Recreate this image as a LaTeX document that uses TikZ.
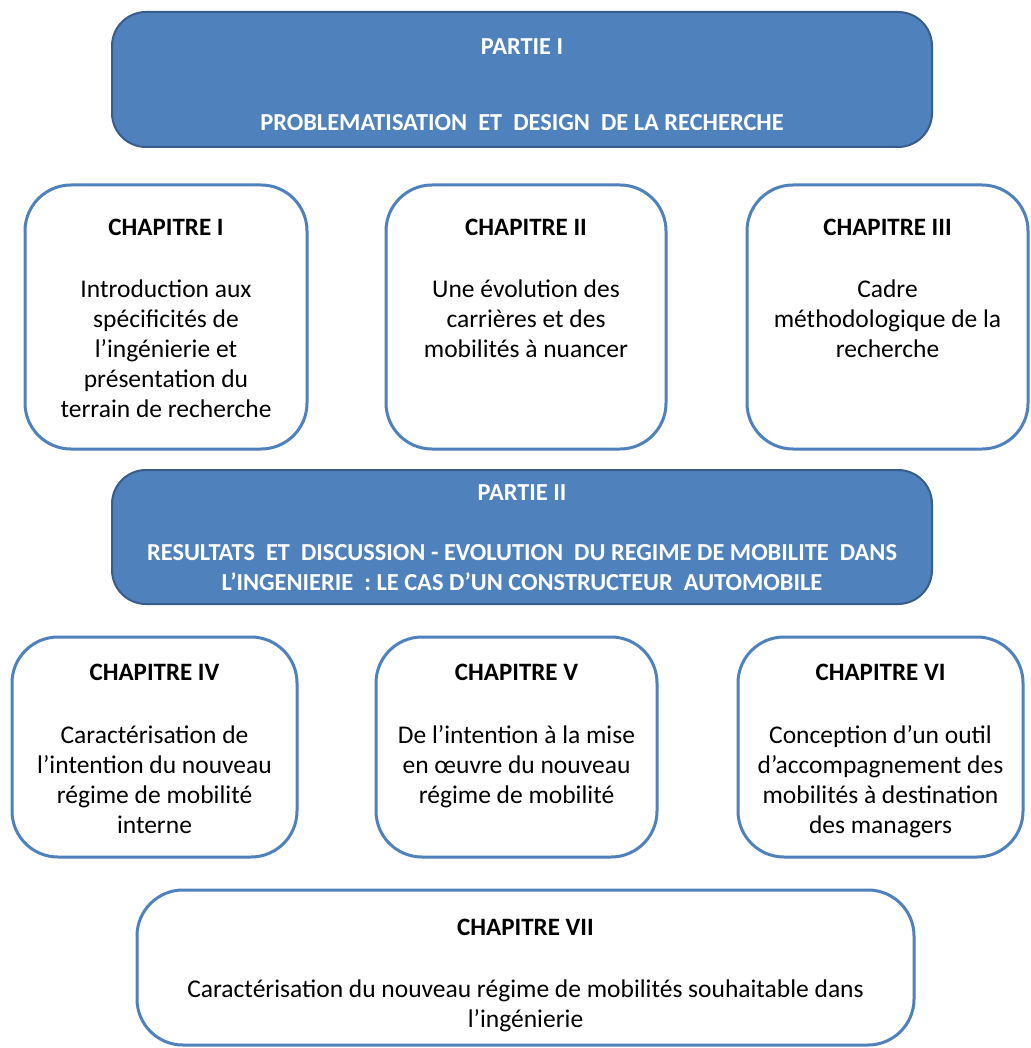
\documentclass[tikz,border=0pt]{standalone}
\usepackage{fontspec}
\setmainfont{Carlito}
\definecolor{pblue}{HTML}{4F81BD}
\definecolor{pdark}{HTML}{385D8A}
\begin{document}
\begin{tikzpicture}[x=1pt,y=-1pt,
  partbox/.style={draw=pdark,fill=pblue,line width=2pt,rounded corners=34pt,inner sep=0pt},
  chapbox/.style={draw=pblue,line width=3pt,rounded corners=46pt,fill=white,inner sep=0pt},
  parttext/.style={anchor=north,inner sep=0pt,align=center,text=white,font=\fontsize{24.4}{30}\selectfont\bfseries},
  ctitle/.style={anchor=north,inner sep=0pt,align=center,font=\fontsize{25}{30}\selectfont\bfseries},
  cbody/.style={anchor=north,inner sep=0pt,align=center,font=\fontsize{25.5}{30}\selectfont}]
\useasboundingbox[fill=white] (0,0) rectangle (1030,1048);

% Partie I
\node[partbox,minimum width=820pt,minimum height=135pt] (p1) at (522,79.5) {};
\node[parttext] (p1t) at (522,33) {\strut PARTIE I};
\node[parttext] (p1b) at (522,109) {\strut PROBLEMATISATION\ \ ET\ \ DESIGN\ \ DE LA RECHERCHE};

% Chapitres I-III
\node[chapbox,minimum width=282pt,minimum height=264pt] (c1) at (166,317) {};
\node[ctitle] (c1t) at (166,214) {\strut CHAPITRE I};
\node[cbody] (c1b) at (166,276) {\strut Introduction aux\\ spécificités de\\ l’ingénierie et\\ présentation du\\ terrain de recherche};

\node[chapbox,minimum width=280pt,minimum height=264pt] (c2) at (526,317) {};
\node[ctitle] (c2t) at (526,214) {\strut CHAPITRE II};
\node[cbody] (c2b) at (526,276) {\strut Une évolution des\\ carrières et des\\ mobilités à nuancer};

\node[chapbox,minimum width=281pt,minimum height=264pt] (c3) at (887.5,317) {};
\node[ctitle] (c3t) at (887.5,214) {\strut CHAPITRE III};
\node[cbody] (c3b) at (887.5,276) {\strut Cadre\\ méthodologique de la\\ recherche};

% Partie II
\node[partbox,minimum width=820pt,minimum height=134pt] (p2) at (522,537) {};
\node[parttext] (p2t) at (522,479) {\strut PARTIE II};
\node[parttext] (p2b) at (522,539) {\strut RESULTATS\ \ ET\ \ DISCUSSION - EVOLUTION\ \ DU REGIME DE MOBILITE\ \ DANS\\ L’INGENIERIE\ \ : LE CAS D’UN CONSTRUCTEUR\ \ AUTOMOBILE};

% Chapitres IV-VI
\node[chapbox,minimum width=285pt,minimum height=220pt] (c4) at (154.5,747) {};
\node[ctitle] (c4t) at (154.5,659) {\strut CHAPITRE IV};
\node[cbody] (c4b) at (154.5,722) {\strut Caractérisation de\\ l’intention du nouveau\\ régime de mobilité\\ interne};

\node[chapbox,minimum width=281pt,minimum height=220pt] (c5) at (516.5,747) {};
\node[ctitle] (c5t) at (516.5,659) {\strut CHAPITRE V};
\node[cbody] (c5b) at (516.5,722) {\strut De l’intention à la mise\\ en œuvre du nouveau\\ régime de mobilité};

\node[chapbox,minimum width=285pt,minimum height=220pt] (c6) at (880.5,747) {};
\node[ctitle] (c6t) at (880.5,659) {\strut CHAPITRE VI};
\node[cbody] (c6b) at (880.5,722) {\strut Conception d’un outil\\ d’accompagnement des\\ mobilités à destination\\ des managers};

% Chapitre VII
\node[chapbox,minimum width=777pt,minimum height=155pt] (c7) at (525.5,967.5) {};
\node[ctitle] (c7t) at (525.5,914) {\strut CHAPITRE VII};
\node[cbody] (c7b) at (525.5,976) {\strut Caractérisation du nouveau régime de mobilités souhaitable dans\\ l’ingénierie};
\end{tikzpicture}
\end{document}
